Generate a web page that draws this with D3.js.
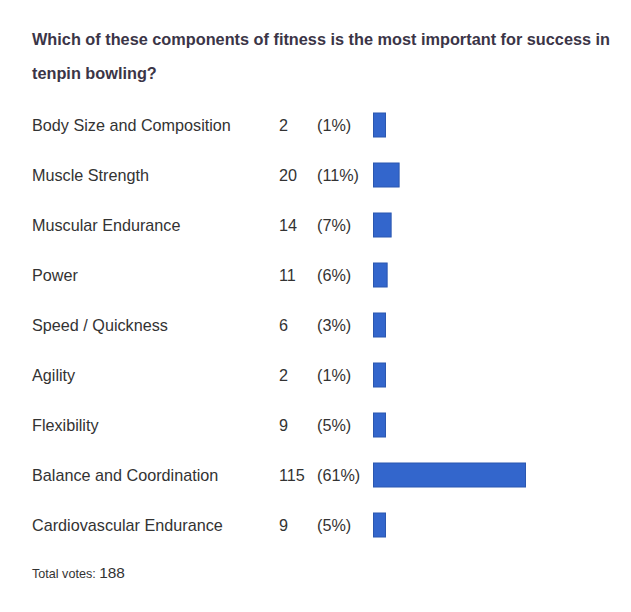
<!DOCTYPE html>
<html>
<head>
<meta charset="utf-8">
<script src="https://cdn.jsdelivr.net/npm/d3@7"></script>
<style>
  body { margin: 0; background: #fff; }
  text { font-family: "Liberation Sans", Arial, sans-serif; }
</style>
</head>
<body>
<svg id="chart" width="631" height="612"></svg>
<script>
var titleLines = ["Which of these components of fitness is the most important for success in",
                  "tenpin bowling?"];
var answers = ["Body Size and Composition", "Muscle Strength", "Muscular Endurance", "Power",
               "Speed / Quickness", "Agility", "Flexibility", "Balance and Coordination",
               "Cardiovascular Endurance"];
var votes = [2, 20, 14, 11, 6, 2, 9, 115, 9];
var percents = ["1%", "11%", "7%", "6%", "3%", "1%", "5%", "61%", "5%"];
var totalVotes = 188;

var svg = d3.select('#chart');

// title
svg.selectAll('.title')
    .data(titleLines)
    .enter().append('text')
    .attr('class', 'title')
    .attr('x', 32)
    .attr('y', function (d, i) { return 45 + i * 34; })
    .style('font-size', '16.3px')
    .style('font-weight', 'bold')
    .style('fill', '#3b3547')
    .text(function (d) { return d; });

var y = d3.scaleBand()
    .domain(answers)
    .range([100, 550])
    .paddingInner(0.5)
    .paddingOuter(0.25);

var x = d3.scaleLinear()
    .domain([0, 115])
    .range([0, 153]);

var rows = svg.selectAll('.row')
    .data(answers)
    .enter().append('g')
    .attr('class', 'row')
    .attr('transform', function (d) { return 'translate(0,' + (y(d) + y.bandwidth() / 2) + ')'; });

rows.append('text')
    .attr('x', 32)
    .attr('dy', '0.35em')
    .style('font-size', '16.2px')
    .style('fill', '#333')
    .text(function (d) { return d; });

rows.append('text')
    .attr('x', 279)
    .attr('dy', '0.35em')
    .style('font-size', '16.2px')
    .style('fill', '#333')
    .text(function (d, i) { return votes[i]; });

rows.append('text')
    .attr('x', 317)
    .attr('dy', '0.35em')
    .style('font-size', '16.2px')
    .style('fill', '#333')
    .text(function (d, i) { return '(' + percents[i] + ')'; });

rows.append('rect')
    .attr('x', 373.5)
    .attr('y', -y.bandwidth() / 2 + 0.5)
    .attr('width', function (d, i) { return Math.max(x(votes[i]), 13) - 1; })
    .attr('height', y.bandwidth() - 1)
    .style('fill', '#3366cc')
    .style('stroke', '#2b57b0')
    .style('stroke-width', 1);

// footer
var foot = svg.append('text')
    .attr('x', 32)
    .attr('y', 578)
    .style('fill', '#333');
foot.append('tspan').style('font-size', '12.6px').text('Total votes: ');
foot.append('tspan').style('font-size', '15.4px').text(totalVotes);
</script>
</body>
</html>
